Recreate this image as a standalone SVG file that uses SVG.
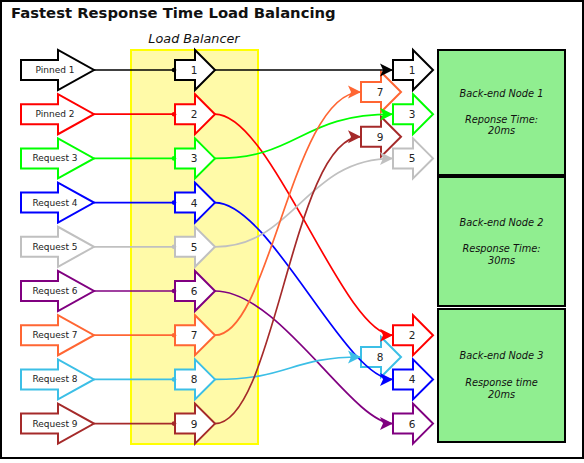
<svg xmlns="http://www.w3.org/2000/svg" width="584" height="463" viewBox="0 0 584 463">
<defs>
<style>
.ar{fill:#fff;stroke-width:2;stroke-linejoin:miter}
.lbl{font-family:"DejaVu Sans",sans-serif;font-size:9px;fill:#222;text-anchor:middle}
.num{font-family:"DejaVu Sans",sans-serif;font-size:10.5px;fill:#222;text-anchor:middle}
.nt{font-family:"DejaVu Sans",sans-serif;font-style:italic;font-size:9.8px;fill:#111;text-anchor:middle}
.node{fill:#90ee90;stroke:#000;stroke-width:2}
.c{fill:none;stroke-width:1.7}
.k{stroke:#000}.r{stroke:#ff0000}.g{stroke:#00ff00}.b{stroke:#0000ff}.s{stroke:#c0c0c0}.p{stroke:#800080}.o{stroke:#ff6633}.y{stroke:#3cbfe6}.w{stroke:#a52a2a}
</style>
<path id="arw" d="M0,-10 H20 V-20 L40,0 L20,20 V10 H0 Z"/>
<path id="larw" d="M0,-10 H37 V-20 L73,0 L37,20 V10 H0 Z"/>
<marker id="ak" markerUnits="userSpaceOnUse" markerWidth="14" markerHeight="14" refX="13" refY="7" orient="auto"><path d="M0,0.5 L13,7 L0,13.5 L3,7 Z" fill="#000"/></marker>
<marker id="ar" markerUnits="userSpaceOnUse" markerWidth="14" markerHeight="14" refX="13" refY="7" orient="auto"><path d="M0,0.5 L13,7 L0,13.5 L3,7 Z" fill="#ff0000"/></marker>
<marker id="ag" markerUnits="userSpaceOnUse" markerWidth="14" markerHeight="14" refX="13" refY="7" orient="auto"><path d="M0,0.5 L13,7 L0,13.5 L3,7 Z" fill="#00ff00"/></marker>
<marker id="ab" markerUnits="userSpaceOnUse" markerWidth="14" markerHeight="14" refX="13" refY="7" orient="auto"><path d="M0,0.5 L13,7 L0,13.5 L3,7 Z" fill="#0000ff"/></marker>
<marker id="as" markerUnits="userSpaceOnUse" markerWidth="14" markerHeight="14" refX="13" refY="7" orient="auto"><path d="M0,0.5 L13,7 L0,13.5 L3,7 Z" fill="#c0c0c0"/></marker>
<marker id="ap" markerUnits="userSpaceOnUse" markerWidth="14" markerHeight="14" refX="13" refY="7" orient="auto"><path d="M0,0.5 L13,7 L0,13.5 L3,7 Z" fill="#800080"/></marker>
<marker id="ao" markerUnits="userSpaceOnUse" markerWidth="14" markerHeight="14" refX="13" refY="7" orient="auto"><path d="M0,0.5 L13,7 L0,13.5 L3,7 Z" fill="#ff6633"/></marker>
<marker id="ay" markerUnits="userSpaceOnUse" markerWidth="14" markerHeight="14" refX="13" refY="7" orient="auto"><path d="M0,0.5 L13,7 L0,13.5 L3,7 Z" fill="#3cbfe6"/></marker>
<marker id="aw" markerUnits="userSpaceOnUse" markerWidth="14" markerHeight="14" refX="13" refY="7" orient="auto"><path d="M0,0.5 L13,7 L0,13.5 L3,7 Z" fill="#a52a2a"/></marker>
<marker id="dk" markerUnits="userSpaceOnUse" markerWidth="6" markerHeight="6" refX="3" refY="3"><circle cx="3" cy="3" r="2.3" fill="#000"/></marker>
<marker id="dr" markerUnits="userSpaceOnUse" markerWidth="6" markerHeight="6" refX="3" refY="3"><circle cx="3" cy="3" r="2.3" fill="#ff0000"/></marker>
<marker id="dg" markerUnits="userSpaceOnUse" markerWidth="6" markerHeight="6" refX="3" refY="3"><circle cx="3" cy="3" r="2.3" fill="#00ff00"/></marker>
<marker id="db" markerUnits="userSpaceOnUse" markerWidth="6" markerHeight="6" refX="3" refY="3"><circle cx="3" cy="3" r="2.3" fill="#0000ff"/></marker>
<marker id="ds" markerUnits="userSpaceOnUse" markerWidth="6" markerHeight="6" refX="3" refY="3"><circle cx="3" cy="3" r="2.3" fill="#c0c0c0"/></marker>
<marker id="dp" markerUnits="userSpaceOnUse" markerWidth="6" markerHeight="6" refX="3" refY="3"><circle cx="3" cy="3" r="2.3" fill="#800080"/></marker>
<marker id="do" markerUnits="userSpaceOnUse" markerWidth="6" markerHeight="6" refX="3" refY="3"><circle cx="3" cy="3" r="2.3" fill="#ff6633"/></marker>
<marker id="dy" markerUnits="userSpaceOnUse" markerWidth="6" markerHeight="6" refX="3" refY="3"><circle cx="3" cy="3" r="2.3" fill="#3cbfe6"/></marker>
<marker id="dw" markerUnits="userSpaceOnUse" markerWidth="6" markerHeight="6" refX="3" refY="3"><circle cx="3" cy="3" r="2.3" fill="#a52a2a"/></marker>
</defs>
<rect x="1" y="1" width="582" height="457" fill="#fff" stroke="#000" stroke-width="2"/>
<text x="11" y="18" font-family="DejaVu Sans, sans-serif" font-weight="bold" font-size="14.8" fill="#111">Fastest Response Time Load Balancing</text>
<g id="load-balancer">
<rect x="131" y="50" width="127" height="394" fill="#fffaa8" stroke="#ffff00" stroke-width="2"/>
<text x="194" y="43" font-family="DejaVu Sans, sans-serif" font-style="italic" font-size="12.8" fill="#111" text-anchor="middle">Load Balancer</text>
</g>
<g id="sources">
<g id="pinned1"><use href="#larw" x="21" y="70" class="ar k"/><text class="lbl" x="55" y="73">Pinned 1</text></g>
<g id="pinned2"><use href="#larw" x="21" y="114.2" class="ar r"/><text class="lbl" x="55" y="117.2">Pinned 2</text></g>
<g id="request3"><use href="#larw" x="21" y="158.4" class="ar g"/><text class="lbl" x="55" y="161.4">Request 3</text></g>
<g id="request4"><use href="#larw" x="21" y="202.6" class="ar b"/><text class="lbl" x="55" y="205.6">Request 4</text></g>
<g id="request5"><use href="#larw" x="21" y="246.8" class="ar s"/><text class="lbl" x="55" y="249.8">Request 5</text></g>
<g id="request6"><use href="#larw" x="21" y="291" class="ar p"/><text class="lbl" x="55" y="294">Request 6</text></g>
<g id="request7"><use href="#larw" x="21" y="335.2" class="ar o"/><text class="lbl" x="55" y="338.2">Request 7</text></g>
<g id="request8"><use href="#larw" x="21" y="379.4" class="ar y"/><text class="lbl" x="55" y="382.4">Request 8</text></g>
<g id="request9"><use href="#larw" x="21" y="423.6" class="ar w"/><text class="lbl" x="55" y="426.6">Request 9</text></g>
</g>
<g id="lb-slots">
<g id="lb1"><use href="#arw" x="175" y="70" class="ar k"/><text class="num" x="194" y="74">1</text></g>
<g id="lb2"><use href="#arw" x="175" y="114.2" class="ar r"/><text class="num" x="194" y="118.2">2</text></g>
<g id="lb3"><use href="#arw" x="175" y="158.4" class="ar g"/><text class="num" x="194" y="162.4">3</text></g>
<g id="lb4"><use href="#arw" x="175" y="202.6" class="ar b"/><text class="num" x="194" y="206.6">4</text></g>
<g id="lb5"><use href="#arw" x="175" y="246.8" class="ar s"/><text class="num" x="194" y="250.8">5</text></g>
<g id="lb6"><use href="#arw" x="175" y="291" class="ar p"/><text class="num" x="194" y="295">6</text></g>
<g id="lb7"><use href="#arw" x="175" y="335.2" class="ar o"/><text class="num" x="194" y="339.2">7</text></g>
<g id="lb8"><use href="#arw" x="175" y="379.4" class="ar y"/><text class="num" x="194" y="383.4">8</text></g>
<g id="lb9"><use href="#arw" x="175" y="423.6" class="ar w"/><text class="num" x="194" y="427.6">9</text></g>
</g>
<g id="destinations">
<g id="d1"><use href="#arw" x="393" y="70" class="ar k"/><text class="num" x="412" y="74">1</text></g>
<g id="d7"><use href="#arw" x="361" y="92" class="ar o"/><text class="num" x="380" y="96">7</text></g>
<g id="d3"><use href="#arw" x="393" y="114.2" class="ar g"/><text class="num" x="412" y="118.2">3</text></g>
<g id="d9"><use href="#arw" x="361" y="136.7" class="ar w"/><text class="num" x="380" y="140.7">9</text></g>
<g id="d5"><use href="#arw" x="393" y="158.4" class="ar s"/><text class="num" x="412" y="162.4">5</text></g>
<g id="d2"><use href="#arw" x="393" y="335.2" class="ar r"/><text class="num" x="412" y="339.2">2</text></g>
<g id="d8"><use href="#arw" x="361" y="357" class="ar y"/><text class="num" x="380" y="361">8</text></g>
<g id="d4"><use href="#arw" x="393" y="379.4" class="ar b"/><text class="num" x="412" y="383.4">4</text></g>
<g id="d6"><use href="#arw" x="393" y="423.6" class="ar p"/><text class="num" x="412" y="427.6">6</text></g>
</g>
<g id="node1"><rect class="node" x="438" y="50" width="127" height="125"/>
<text class="nt" x="501.5" y="96.5">Back-end Node 1</text><text class="nt" x="501.5" y="122.5">Reponse Time:</text><text class="nt" x="501.5" y="134">20ms</text></g>
<g id="node2"><rect class="node" x="438" y="177" width="127" height="129"/>
<text class="nt" x="501.5" y="225.5">Back-end Node 2</text><text class="nt" x="501.5" y="251.5">Response Time:</text><text class="nt" x="501.5" y="263.5">30ms</text></g>
<g id="node3"><rect class="node" x="438" y="309" width="127" height="133"/>
<text class="nt" x="501.5" y="359">Back-end Node 3</text><text class="nt" x="501.5" y="385.5">Response time</text><text class="nt" x="501.5" y="397.5">20ms</text></g>
<g id="connectors">
<path class="c k" d="M94,70 H174" marker-end="url(#dk)"/>
<path class="c r" d="M94,114.2 H174" marker-end="url(#dr)"/>
<path class="c g" d="M94,158.4 H174" marker-end="url(#dg)"/>
<path class="c b" d="M94,202.6 H174" marker-end="url(#db)"/>
<path class="c s" d="M94,246.8 H174" marker-end="url(#ds)"/>
<path class="c p" d="M94,291 H174" marker-end="url(#dp)"/>
<path class="c o" d="M94,335.2 H174" marker-end="url(#do)"/>
<path class="c y" d="M94,379.4 H174" marker-end="url(#dy)"/>
<path class="c w" d="M94,423.6 H174" marker-end="url(#dw)"/>
<path class="c k" d="M215,70 H393" marker-end="url(#ak)"/>
<path class="c r" d="M215,114.2 C272,114.2 343,335.2 393,335.2" marker-end="url(#ar)"/>
<path class="c g" d="M215,158.4 C300,158.4 300,114.2 393,114.2" marker-end="url(#ag)"/>
<path class="c b" d="M215,202.6 C270,202.6 345,379.4 393,379.4" marker-end="url(#ab)"/>
<path class="c s" d="M215,246.8 C295,246.8 305,158.4 393,158.4" marker-end="url(#as)"/>
<path class="c p" d="M215,291 C280,291 352,423.6 393,423.6" marker-end="url(#ap)"/>
<path class="c o" d="M215,335.2 C270,335.2 292,92 361,92" marker-end="url(#ao)"/>
<path class="c y" d="M215,379.4 C290,379.4 290,357 361,357" marker-end="url(#ay)"/>
<path class="c w" d="M215,423.6 C275,423.6 293,136.7 361,136.7" marker-end="url(#aw)"/>
</g>
</svg>
